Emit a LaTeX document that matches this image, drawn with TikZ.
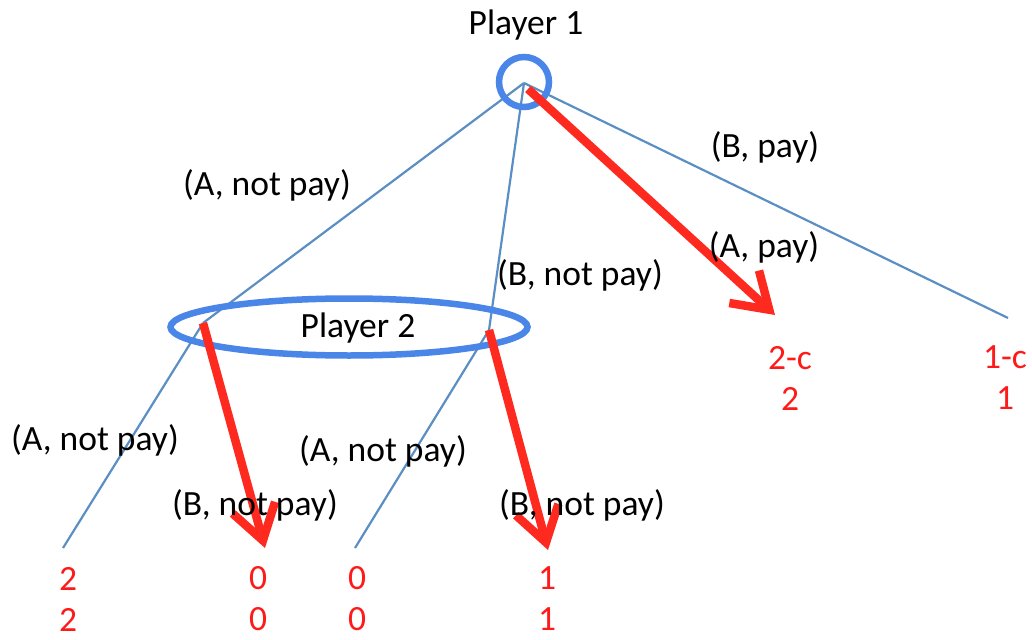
\documentclass[tikz,border=0pt]{standalone}
\usepackage{fontspec}
\setmainfont{Carlito}
\usetikzlibrary{arrows.meta,shapes.geometric}
\definecolor{edgeblue}{HTML}{5B8FC4}
\definecolor{setblue}{HTML}{4A86E8}
\definecolor{arrowred}{HTML}{FF2A1F}
\definecolor{payred}{HTML}{FF1A1A}
\begin{document}
\begin{tikzpicture}[x=1pt,y=-1pt,
  every node/.style={font=\fontsize{35.5}{41}\selectfont, inner sep=0pt},
  edge/.style={draw=edgeblue, line width=2.2pt},
  best/.style={draw=arrowred, line width=8.5pt, -{Straight Barb[length=34pt,width=44pt]}},
  infoset/.style={draw=setblue, line width=6.5pt},
  payoff/.style={text=payred, align=center},
  lbl/.style={text=black}]
\useasboundingbox (0,0) rectangle (1032,639);
% tree nodes
\coordinate (root) at (524,83);
\coordinate (rootS) at (528,89);
\coordinate (nA) at (203,323);
\coordinate (nB) at (489,330);
\coordinate (l1) at (63,548);
\coordinate (l2) at (265,548);
\coordinate (l3) at (355,548);
\coordinate (l4) at (548,550);
\coordinate (l5) at (775,315);
\coordinate (l6) at (1008,318);
% blue branches
\draw[edge] (root) -- (nA);
\draw[edge] (root) -- (nB);
\draw[edge] (root) -- (l6);
\draw[edge] (nA) -- (l1);
\draw[edge] (nB) -- (l3);
% information sets
\node[infoset, circle, minimum size=50pt] (p1) at (524,82) {};
\node[infoset, ellipse, minimum width=357pt, minimum height=57pt] (p2) at (349,327) {};
\node[lbl] (p2t) at (358,328) {Player 2};
% red best-response arrows
\draw[best] (rootS) -- (l5);
\draw[best] (nA) -- (l2);
\draw[best] (nB) -- (l4);
% labels
\node[lbl] (t1) at (526,25) {Player 1};
\node[lbl] (e1) at (267,185) {(A, not pay)};
\node[lbl] (e2) at (580,275) {(B, not pay)};
\node[lbl] (e3) at (765,147) {(B, pay)};
\node[lbl] (e4) at (764,247) {(A, pay)};
\node[lbl] (e5) at (95,440) {(A, not pay)};
\node[lbl] (e6) at (255,505) {(B, not pay)};
\node[lbl] (e7) at (383,451) {(A, not pay)};
\node[lbl] (e8) at (582,505) {(B, not pay)};
% payoffs
\node[payoff] (u1) at (68,599) {2\\2};
\node[payoff] (u2) at (258,599) {0\\0};
\node[payoff] (u3) at (357,599) {0\\0};
\node[payoff] (u4) at (547,599) {1\\1};
\node[payoff] (u5) at (790,378) {2-c\\2};
\node[payoff] (u6) at (1005,378) {1-c\\1};
\end{tikzpicture}
\end{document}
